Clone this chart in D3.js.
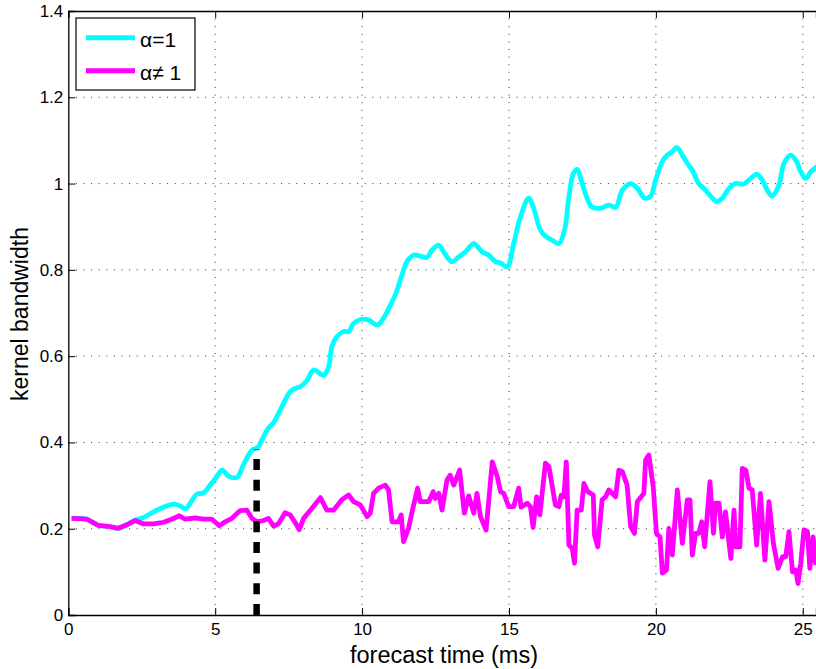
<!DOCTYPE html>
<html>
<head>
<meta charset="utf-8">
<script src="https://d3js.org/d3.v7.min.js"></script>
<style>
  body { margin: 0; background: #fff; }
  text { font-family: "Liberation Sans", Arial, sans-serif; fill: #000; }
</style>
</head>
<body>
<div id="viz"></div>
<script>
// ---- data ----
var xTicks = [0, 5, 10, 15, 20, 25];
var yTicks = [0, 0.2, 0.4, 0.6, 0.8, 1, 1.2, 1.4];
var seriesNames = ["\u03b1=1", "\u03b1\u2260 1"];
var seriesColors = ["#00ffff", "#ff00ff"];

// alpha = 1  [time (ms), bandwidth]
var alphaOne = [
  [0.11,0.224],[0.63,0.222],[1.02,0.208],[1.42,0.205],[1.70,0.201],[1.99,0.209],
  [2.27,0.220],[2.56,0.226],[2.90,0.239],[3.24,0.250],[3.58,0.257],[3.81,0.253],
  [3.98,0.246],[4.15,0.259],[4.37,0.280],[4.60,0.283],[4.83,0.301],[5.06,0.321],
  [5.23,0.336],[5.45,0.322],[5.74,0.319],[5.96,0.348],[6.25,0.382],[6.47,0.390],
  [6.64,0.413],[6.81,0.433],[6.98,0.445],[7.21,0.475],[7.55,0.517],[7.72,0.525],
  [7.89,0.529],[8.12,0.543],[8.35,0.568],[8.69,0.556],[8.86,0.575],[8.97,0.622],
  [9.14,0.645],[9.37,0.657],[9.54,0.657],[9.71,0.676],[9.94,0.685],[10.22,0.684],
  [10.51,0.672],[10.73,0.688],[10.96,0.718],[11.13,0.742],[11.30,0.776],[11.53,0.819],
  [11.75,0.834],[11.98,0.832],[12.21,0.829],[12.38,0.846],[12.61,0.857],[12.83,0.836],
  [13.06,0.819],[13.29,0.830],[13.52,0.842],[13.80,0.861],[14.08,0.842],[14.31,0.834],
  [14.54,0.819],[14.71,0.816],[14.94,0.807],[15.16,0.861],[15.39,0.923],[15.67,0.966],
  [15.84,0.943],[16.07,0.892],[16.24,0.878],[16.47,0.869],[16.70,0.861],[16.89,0.892],
  [17.04,0.969],[17.19,1.023],[17.32,1.033],[17.49,1.000],[17.66,0.966],[17.83,0.945],
  [18.12,0.943],[18.40,0.950],[18.63,0.945],[18.86,0.985],[19.14,1.000],[19.37,0.989],
  [19.62,0.966],[19.82,0.971],[19.99,1.008],[20.22,1.051],[20.39,1.066],[20.56,1.074],
  [20.71,1.084],[20.90,1.066],[21.07,1.047],[21.24,1.031],[21.46,1.000],[21.69,0.985],
  [21.86,0.971],[22.07,0.958],[22.26,0.966],[22.49,0.989],[22.71,1.000],[22.99,0.999],
  [23.23,1.012],[23.43,1.022],[23.62,1.008],[23.79,0.985],[23.96,0.971],[24.19,0.997],
  [24.36,1.047],[24.59,1.066],[24.79,1.051],[24.93,1.027],[25.10,1.012],[25.27,1.027],
  [25.48,1.039]
];

// alpha != 1
var alphaNotOne = [
  [0.11,0.224],[0.63,0.222],[1.02,0.208],[1.42,0.205],[1.70,0.201],[1.99,0.209],
  [2.27,0.219],[2.56,0.211],[2.90,0.211],[3.24,0.215],[3.52,0.222],[3.78,0.230],
  [3.98,0.222],[4.32,0.225],[4.60,0.222],[4.89,0.222],[5.14,0.207],[5.34,0.216],
  [5.57,0.224],[5.85,0.242],[6.08,0.243],[6.25,0.224],[6.42,0.216],[6.65,0.219],
  [6.81,0.224],[6.99,0.206],[7.16,0.212],[7.38,0.237],[7.55,0.232],[7.67,0.220],
  [7.86,0.198],[8.01,0.224],[8.29,0.247],[8.58,0.272],[8.80,0.243],[9.03,0.243],
  [9.31,0.267],[9.54,0.278],[9.71,0.263],[9.94,0.255],[10.17,0.228],[10.28,0.236],
  [10.39,0.282],[10.56,0.294],[10.79,0.301],[10.90,0.290],[11.02,0.216],[11.24,0.216],
  [11.33,0.232],[11.41,0.170],[11.58,0.201],[11.70,0.239],[11.89,0.294],[11.98,0.263],
  [12.27,0.263],[12.42,0.286],[12.49,0.270],[12.61,0.282],[12.72,0.243],[12.89,0.313],
  [13.00,0.324],[13.12,0.301],[13.32,0.336],[13.48,0.236],[13.63,0.276],[13.80,0.236],
  [13.91,0.282],[14.03,0.228],[14.22,0.197],[14.43,0.355],[14.60,0.321],[14.71,0.286],
  [14.82,0.282],[14.99,0.251],[15.16,0.251],[15.33,0.294],[15.41,0.250],[15.62,0.259],
  [15.73,0.251],[15.82,0.203],[15.94,0.274],[16.05,0.232],[16.24,0.352],[16.36,0.344],
  [16.58,0.255],[16.70,0.251],[16.78,0.278],[16.87,0.274],[16.95,0.355],[17.04,0.162],
  [17.15,0.155],[17.23,0.120],[17.32,0.243],[17.46,0.243],[17.55,0.305],[17.68,0.286],
  [17.87,0.278],[17.91,0.185],[18.02,0.158],[18.17,0.267],[18.29,0.274],[18.40,0.290],
  [18.63,0.274],[18.74,0.336],[18.86,0.332],[19.02,0.301],[19.14,0.205],[19.27,0.189],
  [19.37,0.263],[19.50,0.274],[19.59,0.282],[19.65,0.359],[19.76,0.371],[19.91,0.297],
  [20.02,0.189],[20.14,0.181],[20.22,0.097],[20.36,0.104],[20.44,0.201],[20.56,0.139],
  [20.73,0.290],[20.90,0.166],[21.07,0.267],[21.16,0.267],[21.24,0.139],[21.35,0.189],
  [21.46,0.189],[21.56,0.216],[21.66,0.158],[21.84,0.309],[21.96,0.189],[22.03,0.259],
  [22.15,0.259],[22.26,0.181],[22.37,0.239],[22.55,0.131],[22.66,0.243],[22.72,0.158],
  [22.86,0.158],[22.94,0.340],[23.06,0.336],[23.17,0.294],[23.28,0.290],[23.43,0.162],
  [23.56,0.282],[23.71,0.127],[23.85,0.263],[24.00,0.166],[24.16,0.108],[24.31,0.135],
  [24.42,0.135],[24.53,0.193],[24.65,0.100],[24.76,0.104],[24.84,0.073],[24.93,0.120],
  [25.04,0.197],[25.16,0.193],[25.24,0.108],[25.35,0.181],[25.44,0.116]
];

// vertical dashed marker [time, top value]
var marker = [6.41, 0.385];

// ---- layout ----
var W = 816, H = 669;
var plotLeft = 68.3, plotRight = 816, plotTop = 11, plotBottom = 615;

var svg = d3.select("#viz")
  .append("svg")
    .attr("width", W)
    .attr("height", H);

var x = d3.scaleLinear().domain([0, 25.45]).range([plotLeft, plotRight]);
var y = d3.scaleLinear().domain([0, 1.4]).range([plotBottom, plotTop]);

// dotted grid
svg.append("g")
  .selectAll("line")
  .data(xTicks.slice(1))
  .enter().append("line")
    .attr("x1", function(d) { return x(d); })
    .attr("x2", function(d) { return x(d); })
    .attr("y1", plotTop).attr("y2", plotBottom)
    .attr("stroke", "#333").attr("stroke-width", 1)
    .attr("stroke-dasharray", "1,6.6");

svg.append("g")
  .selectAll("line")
  .data(yTicks.slice(1, -1))
  .enter().append("line")
    .attr("y1", function(d) { return y(d); })
    .attr("y2", function(d) { return y(d); })
    .attr("x1", plotLeft).attr("x2", plotRight)
    .attr("stroke", "#333").attr("stroke-width", 1)
    .attr("stroke-dasharray", "1,6.6");

// axes
var xAxis = svg.append("g")
  .attr("transform", "translate(0," + plotBottom + ")")
  .call(d3.axisBottom(x).tickValues(xTicks).tickSize(-7).tickPadding(8).tickFormat(d3.format("d")));
var xTop = svg.append("g")
  .attr("transform", "translate(0," + plotTop + ")")
  .call(d3.axisTop(x).tickValues(xTicks).tickSize(-7).tickFormat(""));
var yAxis = svg.append("g")
  .attr("transform", "translate(" + plotLeft + ",0)")
  .call(d3.axisLeft(y).tickValues(yTicks).tickSize(-7).tickPadding(5).tickFormat(function(d) { return String(+d.toFixed(1)); }));

[xAxis, xTop, yAxis].forEach(function(a) {
  a.attr("font-size", 17).attr("font-family", "'Liberation Sans', Arial, sans-serif");
  a.select(".domain").attr("stroke", "#000").attr("stroke-width", 1.3);
  a.selectAll(".tick line").attr("stroke", "#000").attr("stroke-width", 1);
  a.selectAll("text").attr("fill", "#000");
});

// series lines
var line = d3.line()
  .x(function(d) { return x(d[0]); })
  .y(function(d) { return y(d[1]); });

svg.append("defs").append("clipPath").attr("id", "clip")
  .append("rect").attr("x", plotLeft).attr("y", plotTop)
  .attr("width", plotRight - plotLeft).attr("height", plotBottom - plotTop);

var plot = svg.append("g").attr("clip-path", "url(#clip)");

plot.append("path")
  .datum(alphaOne)
  .attr("d", line.curve(d3.curveCatmullRom))
  .attr("fill", "none")
  .attr("stroke", seriesColors[0])
  .attr("stroke-width", 4.8)
  .attr("stroke-linejoin", "round");

plot.append("path")
  .datum(alphaNotOne)
  .attr("d", line.curve(d3.curveLinear))
  .attr("fill", "none")
  .attr("stroke", seriesColors[1])
  .attr("stroke-width", 4.8)
  .attr("stroke-linejoin", "round");

// dashed marker, dashes counted from the axis up
plot.append("line")
  .attr("x1", x(marker[0])).attr("x2", x(marker[0]))
  .attr("y1", y(0)).attr("y2", y(marker[1]))
  .attr("stroke", "#000")
  .attr("stroke-width", 6.5)
  .attr("stroke-dasharray", "11,9.7");

// legend
var legend = svg.append("g");
legend.append("rect")
  .attr("x", 76).attr("y", 18)
  .attr("width", 119).attr("height", 72)
  .attr("fill", "#fff").attr("stroke", "#000").attr("stroke-width", 1.2);

var items = legend.selectAll("g.item")
  .data(seriesNames)
  .enter().append("g")
    .attr("class", "item")
    .attr("transform", function(d, i) { return "translate(0," + (37.7 + i * 33) + ")"; });

items.append("line")
  .attr("x1", 86).attr("x2", 135)
  .attr("stroke", function(d, i) { return seriesColors[i]; })
  .attr("stroke-width", 5);

items.append("text")
  .attr("x", 140).attr("y", 9)
  .style("font-size", "21px")
  .text(function(d) { return d; });

// axis titles
svg.append("text")
  .attr("x", 444).attr("y", 663)
  .attr("text-anchor", "middle")
  .style("font-size", "23.5px")
  .text("forecast time (ms)");

svg.append("text")
  .attr("transform", "translate(28,314) rotate(-90)")
  .attr("text-anchor", "middle")
  .style("font-size", "23px")
  .text("kernel bandwidth");
</script>
</body>
</html>
